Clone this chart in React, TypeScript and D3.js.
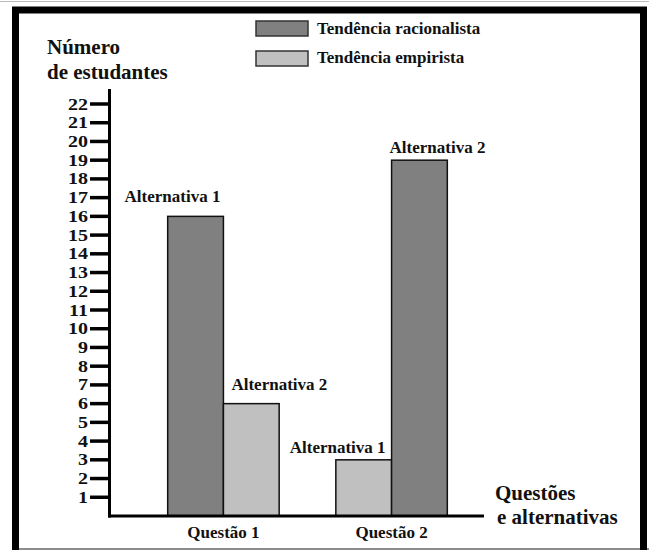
import React from "react";
import * as d3 from "d3";

const questions = ["Questão 1", "Questão 2"];
const racionalista = [16, 19];
const empirista = [6, 3];
const racLabels = ["Alternativa 1", "Alternativa 2"];
const empLabels = ["Alternativa 2", "Alternativa 1"];
const barOrder = [["rac", "emp"], ["emp", "rac"]];
const yTicks = d3.range(1, 23);
const seriesNames = ["Tendência racionalista", "Tendência empirista"];

const W = 649, H = 550;
const DARK = "#808080", LIGHT = "#c0c0c0";
const FONT = "'Liberation Serif', 'Times New Roman', serif";

export default function App() {
  const y = d3.scaleLinear().domain([0, 22]).range([516, 104]);
  const x = d3.scaleBand<string>().domain(questions).range([109, 506]).paddingInner(0.337).paddingOuter(0.349);
  const inner = d3.scaleBand<string>().domain(["0", "1"]).range([0, x.bandwidth()]);

  const bars: any[] = [];
  questions.forEach((q, qi) => {
    barOrder[qi].forEach((s, si) => {
      const v = s === "rac" ? racionalista[qi] : empirista[qi];
      const label = s === "rac" ? racLabels[qi] : empLabels[qi];
      bars.push({ q, qi, si, s, v, label, x0: (x(q) as number) + (inner(String(si)) as number), w: inner.bandwidth() });
    });
  });

  return (
    <svg width={W} height={H} style={{ position: "absolute", left: 0, top: 0, background: "#fff" }} fontFamily={FONT}>
      <rect x={0} y={0} width={W} height={H} fill="#fff" />
      <line x1={0} x2={W} y1={1.5} y2={1.5} stroke="#bbb" strokeWidth={1} />
      <line x1={18} x2={W} y1={549} y2={549} stroke="#666" strokeWidth={1.5} />
      <path d={`M15.5,${H + 10} L15.5,10 L643.5,10 L643.5,${H + 10}`} fill="none" stroke="#000" strokeWidth={7} />

      {/* legend */}
      {seriesNames.map((n, i) => (
        <g key={n}>
          <rect x={256} y={21 + i * 30} width={52} height={15} fill={i === 0 ? DARK : LIGHT} stroke="#333" strokeWidth={1.5} />
          <text x={317} y={34 + i * 29} fontSize={17} fontWeight="bold" fill="#111">{n}</text>
        </g>
      ))}

      {/* y title */}
      <text x={47} y={54} fontSize={21} fontWeight="bold" fill="#111">Número</text>
      <text x={47} y={79} fontSize={21} fontWeight="bold" fill="#111">de estudantes</text>

      {/* bars */}
      {bars.map((b, i) => (
        <rect key={i} x={b.x0} y={y(b.v)} width={b.w} height={y(0) - y(b.v)} fill={b.s === "rac" ? DARK : LIGHT} stroke="#111" strokeWidth={1.5} />
      ))}
      {bars.map((b, i) => {
        const gap = b.qi === 0 ? 14 : 7;
        const first = b.si === 0;
        const xEnd = b.x0 + b.w - (b.qi === 0 ? 3 : 6);
        const xStart = b.x0 + (b.qi === 0 ? 8 : -2);
        return (
          <text key={"l" + i} x={first ? xEnd : xStart} y={y(b.v) - gap} textAnchor={first ? "end" : "start"} fontSize={17} fontWeight="bold" fill="#111">
            {b.label}
          </text>
        );
      })}

      {/* y axis */}
      <line x1={109.5} x2={109.5} y1={89} y2={517.5} stroke="#000" strokeWidth={3} />
      {yTicks.map((t) => (
        <g key={t}>
          <line x1={90} x2={109} y1={y(t)} y2={y(t)} stroke="#000" strokeWidth={3.5} />
          <text transform={`translate(88,${y(t) + 5.5}) scale(1.25,1)`} textAnchor="end" fontSize={16} fontWeight="bold" fill="#111">{t}</text>
        </g>
      ))}
      {/* x axis */}
      <line x1={108} x2={484} y1={516} y2={516} stroke="#000" strokeWidth={3} />
      {questions.map((q) => (
        <text key={q} x={(x(q) as number) + x.bandwidth() / 2} y={538} textAnchor="middle" fontSize={17} fontWeight="bold" fill="#111">{q}</text>
      ))}
      <text x={495} y={500} fontSize={21} fontWeight="bold" fill="#111">Questões</text>
      <text x={497} y={524} fontSize={21} fontWeight="bold" fill="#111">e alternativas</text>
    </svg>
  );
}
